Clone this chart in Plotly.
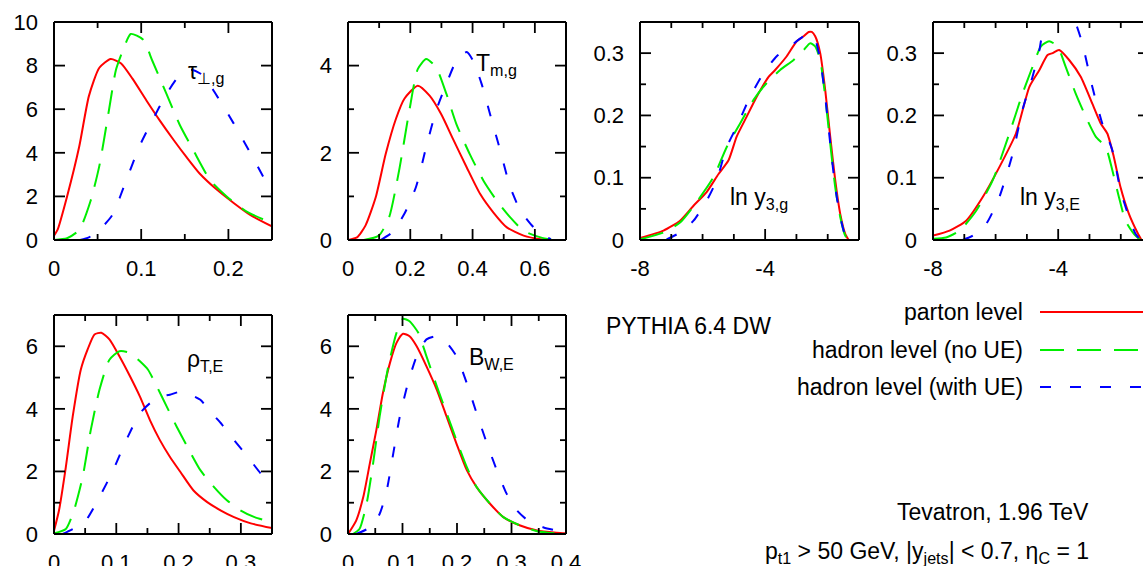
import numpy as np
import plotly.graph_objects as go

W, H = 1143, 566
RED, GREEN, BLUE = "#ff0000", "#00ee00", "#0000ff"
FONT = "Liberation Sans, Arial, Helvetica, sans-serif"

# ---------------- data ----------------
# Panel 1: tau_perp,g
p1_red_x = [0.0, 0.004, 0.015, 0.029, 0.040, 0.052, 0.065, 0.077, 0.090, 0.106, 0.121, 0.137, 0.152, 0.167, 0.187, 0.206, 0.225, 0.25]
p1_red_y = [0.2, 0.46, 2.0, 4.3, 6.6, 7.9, 8.3, 8.1, 7.4, 6.4, 5.5, 4.6, 3.8, 3.05, 2.3, 1.7, 1.15, 0.62]
p1_grn_x = [0.0, 0.015, 0.029, 0.042, 0.052, 0.063, 0.071, 0.079, 0.088, 0.102, 0.113, 0.129, 0.144, 0.160, 0.179, 0.198, 0.221, 0.25]
p1_grn_y = [0.0, 0.08, 0.46, 1.8, 3.4, 5.95, 7.8, 8.7, 9.45, 9.2, 8.2, 6.7, 5.3, 4.1, 2.75, 2.0, 1.3, 0.78]
p1_blu_x = [0.030, 0.040, 0.052, 0.067, 0.083, 0.098, 0.113, 0.129, 0.144, 0.158, 0.171, 0.187, 0.206, 0.225, 0.240, 0.25]
p1_blu_y = [0.0, 0.12, 0.46, 1.15, 2.75, 4.3, 5.5, 6.7, 7.55, 7.8, 7.55, 6.6, 5.35, 4.0, 2.9, 2.1]

# Panel 2: T_m,g
p2_red_x = [0.0, 0.029, 0.056, 0.089, 0.121, 0.154, 0.181, 0.224, 0.262, 0.299, 0.337, 0.381, 0.424, 0.467, 0.510, 0.564, 0.618, 0.672]
p2_red_y = [0.0, 0.06, 0.33, 0.98, 1.97, 2.78, 3.24, 3.54, 3.31, 2.89, 2.32, 1.67, 1.06, 0.63, 0.29, 0.10, 0.02, 0.0]
p2_grn_x = [0.051, 0.099, 0.132, 0.164, 0.197, 0.224, 0.251, 0.283, 0.316, 0.348, 0.391, 0.435, 0.478, 0.521, 0.564, 0.618, 0.662]
p2_grn_y = [0.0, 0.1, 0.52, 1.59, 2.97, 3.92, 4.15, 3.96, 3.35, 2.66, 1.97, 1.36, 0.90, 0.52, 0.21, 0.06, 0.0]
p2_blu_x = [0.105, 0.143, 0.181, 0.218, 0.251, 0.283, 0.316, 0.348, 0.381, 0.402, 0.429, 0.456, 0.489, 0.521, 0.554, 0.586, 0.618, 0.651]
p2_blu_y = [0.0, 0.18, 0.6, 1.21, 2.13, 2.97, 3.58, 4.11, 4.31, 4.11, 3.58, 2.89, 2.05, 1.21, 0.67, 0.37, 0.14, 0.02]

# Panel 3: ln y3,g
p3_red_x = [-8.0, -7.25, -6.72, -6.29, -5.87, -5.49, -5.17, -4.91, -4.59, -4.27, -3.89, -3.68, -3.31, -2.99, -2.77, -2.61, -2.51, -2.40, -2.24, -2.08, -1.92, -1.76, -1.60, -1.44, -1.33]
p3_red_y = [0.003, 0.015, 0.031, 0.055, 0.077, 0.106, 0.128, 0.166, 0.198, 0.230, 0.262, 0.273, 0.295, 0.319, 0.327, 0.334, 0.334, 0.327, 0.300, 0.241, 0.166, 0.096, 0.042, 0.010, 0.0]
p3_grn_x = [-8.0, -7.25, -6.72, -6.19, -5.65, -5.23, -4.80, -4.37, -3.95, -3.52, -3.09, -2.77, -2.56, -2.40, -2.24, -2.08, -1.92, -1.76, -1.60, -1.44, -1.33]
p3_grn_y = [0.001, 0.012, 0.028, 0.061, 0.101, 0.149, 0.187, 0.225, 0.252, 0.273, 0.289, 0.305, 0.316, 0.311, 0.289, 0.230, 0.155, 0.085, 0.037, 0.007, 0.0]
p3_blu_x = [-7.15, -6.72, -6.29, -5.87, -5.55, -5.23, -4.91, -4.48, -4.05, -3.63, -3.20, -2.77, -2.56, -2.40, -2.24, -2.08, -1.92, -1.76, -1.60, -1.44, -1.33]
p3_blu_y = [0.001, 0.012, 0.031, 0.063, 0.096, 0.149, 0.182, 0.230, 0.268, 0.295, 0.311, 0.327, 0.330, 0.322, 0.289, 0.230, 0.155, 0.085, 0.037, 0.007, 0.0]

# Panel 4: ln y3,E
p4_red_x = [-8.0, -7.47, -6.94, -6.41, -5.88, -5.35, -4.92, -4.60, -4.34, -4.18, -3.97, -3.65, -3.28, -2.91, -2.64, -2.43, -2.22, -2.01, -1.74, -1.47, -1.34]
p4_red_y = [0.007, 0.015, 0.031, 0.069, 0.117, 0.171, 0.246, 0.273, 0.297, 0.300, 0.305, 0.289, 0.262, 0.219, 0.187, 0.171, 0.133, 0.085, 0.042, 0.012, 0.0]
p4_grn_x = [-8.0, -7.58, -7.15, -6.62, -6.09, -5.56, -5.14, -4.82, -4.55, -4.29, -4.02, -3.76, -3.44, -3.12, -2.80, -2.48, -2.27, -2.06, -1.85, -1.58, -1.37]
p4_grn_y = [0.002, 0.004, 0.015, 0.047, 0.096, 0.171, 0.235, 0.278, 0.311, 0.319, 0.311, 0.278, 0.235, 0.198, 0.166, 0.149, 0.112, 0.069, 0.031, 0.010, 0.0]
p4_blu_x = [-7.05, -6.73, -6.30, -5.88, -5.45, -5.14, -4.82, -4.60, -4.47, -4.25, -4.0, -3.72, -3.44, -3.23, -2.91, -2.59, -2.27, -2.01, -1.74, -1.53, -1.37]
p4_blu_y = [0.0, 0.007, 0.026, 0.069, 0.139, 0.209, 0.262, 0.305, 0.343, 0.375, 0.385, 0.375, 0.348, 0.316, 0.246, 0.187, 0.144, 0.080, 0.037, 0.010, 0.0]

# Panel 5: rho_T,E
p5_red_x = [0.0, 0.008, 0.019, 0.030, 0.043, 0.054, 0.065, 0.076, 0.089, 0.105, 0.122, 0.138, 0.154, 0.170, 0.186, 0.203, 0.224, 0.246, 0.268, 0.289, 0.316, 0.35]
p5_red_y = [0.1, 0.75, 2.14, 3.75, 5.25, 5.9, 6.38, 6.43, 6.22, 5.68, 5.04, 4.39, 3.64, 3.0, 2.47, 1.98, 1.39, 1.02, 0.75, 0.54, 0.34, 0.19]
p5_grn_x = [0.0, 0.019, 0.032, 0.046, 0.059, 0.073, 0.089, 0.105, 0.122, 0.138, 0.151, 0.165, 0.181, 0.197, 0.214, 0.235, 0.257, 0.278, 0.300, 0.322, 0.349]
p5_grn_y = [0.02, 0.16, 0.75, 1.82, 3.32, 4.61, 5.57, 5.84, 5.79, 5.52, 5.25, 4.72, 4.07, 3.43, 2.79, 2.04, 1.5, 1.07, 0.75, 0.54, 0.38]
p5_blu_x = [0.014, 0.035, 0.051, 0.073, 0.095, 0.116, 0.138, 0.154, 0.170, 0.186, 0.203, 0.219, 0.235, 0.251, 0.268, 0.289, 0.311, 0.332, 0.343, 0.35]
p5_blu_y = [0.0, 0.21, 0.43, 1.18, 2.04, 3.0, 3.86, 4.18, 4.39, 4.45, 4.55, 4.45, 4.29, 3.91, 3.54, 3.0, 2.47, 1.93, 1.71, 1.55]

# Panel 6: B_W,E
p6_red_x = [0.0, 0.015, 0.028, 0.040, 0.052, 0.064, 0.077, 0.089, 0.101, 0.113, 0.126, 0.144, 0.163, 0.181, 0.199, 0.218, 0.236, 0.261, 0.285, 0.316, 0.347, 0.383, 0.4]
p6_red_y = [0.0, 0.43, 1.18, 2.25, 3.32, 4.5, 5.47, 6.11, 6.4, 6.32, 6.0, 5.36, 4.61, 3.75, 2.89, 2.04, 1.5, 0.96, 0.54, 0.27, 0.11, 0.04, 0.02]
p6_grn_x = [0.009, 0.021, 0.034, 0.046, 0.058, 0.074, 0.089, 0.101, 0.113, 0.129, 0.144, 0.163, 0.181, 0.199, 0.218, 0.236, 0.261, 0.285, 0.316, 0.347, 0.383]
p6_grn_y = [0.0, 0.16, 0.96, 2.25, 3.75, 5.36, 6.43, 6.88, 6.8, 6.43, 5.68, 4.72, 3.86, 3.0, 2.14, 1.5, 0.96, 0.54, 0.27, 0.09, 0.02]
p6_blu_x = [0.015, 0.040, 0.058, 0.071, 0.083, 0.095, 0.110, 0.126, 0.144, 0.163, 0.181, 0.199, 0.218, 0.236, 0.255, 0.273, 0.291, 0.310, 0.334, 0.359, 0.383, 0.4]
p6_blu_y = [0.0, 0.21, 0.64, 1.39, 2.57, 3.75, 4.82, 5.68, 6.22, 6.32, 6.11, 5.68, 4.82, 3.86, 2.89, 2.04, 1.29, 0.75, 0.38, 0.21, 0.11, 0.05]

series_names = ["parton level", "hadron level (no UE)", "hadron level (with UE)"]
panel_labels = ["τ<sub>⊥,g</sub>", "T<sub>m,g</sub>", "ln y<sub>3,g</sub>", "ln y<sub>3,E</sub>",
                "ρ<sub>T,E</sub>", "B<sub>W,E</sub>"]
panel_label_pos = [(0.151, 7.7), (0.405, 4.02), (-5.2, 0.066), (-5.27, 0.066), (0.21, 5.55), (0.219, 5.6)]
log_ticks = [-8, -4]
log_tick_text = ["-8", "-4"]

panels = [
    dict(data=[(p1_red_x, p1_red_y), (p1_grn_x, p1_grn_y), (p1_blu_x, p1_blu_y)],
         xr=[0, 0.25], yr=[0, 10], xd=[54, 272], yd=[22, 240], xdt=0.1, xmin=0.05, ydt=2, ymin=None, x0=0),
    dict(data=[(p2_red_x, p2_red_y), (p2_grn_x, p2_grn_y), (p2_blu_x, p2_blu_y)],
         xr=[0, 0.7], yr=[0, 5], xd=[348, 566], yd=[22, 240], xdt=0.2, xmin=0.1, ydt=2, ymin=1, x0=0),
    dict(data=[(p3_red_x, p3_red_y), (p3_grn_x, p3_grn_y), (p3_blu_x, p3_blu_y)],
         xr=[-8, -1], yr=[0, 0.35], xd=[640, 859], yd=[22, 240], xdt=4, xmin=1, ydt=0.1, ymin=0.05, x0=-8),
    dict(data=[(p4_red_x, p4_red_y), (p4_grn_x, p4_grn_y), (p4_blu_x, p4_blu_y)],
         xr=[-8, -1.29], yr=[0, 0.35], xd=[933, 1143], yd=[22, 240], xdt=4, xmin=1, ydt=0.1, ymin=0.05, x0=-8),
    dict(data=[(p5_red_x, p5_red_y), (p5_grn_x, p5_grn_y), (p5_blu_x, p5_blu_y)],
         xr=[0, 0.35], yr=[0, 7], xd=[54, 272], yd=[315, 534], xdt=0.1, xmin=0.05, ydt=2, ymin=1, x0=0),
    dict(data=[(p6_red_x, p6_red_y), (p6_grn_x, p6_grn_y), (p6_blu_x, p6_blu_y)],
         xr=[0, 0.4], yr=[0, 7], xd=[348, 566], yd=[315, 534], xdt=0.1, xmin=0.05, ydt=2, ymin=1, x0=0),
]

colors = [RED, GREEN, BLUE]
dashes = ["solid", "24px,13px", "11px,19px"]
MAJ, MIN, TW, FW = 11, 6, 1.8, 2


def tick_values(lo, hi, step, start):
    k0 = int(np.ceil((lo - start) / step - 1e-9))
    k1 = int(np.floor((hi - start) / step + 1e-9))
    return [round(start + k * step, 10) for k in range(k0, k1 + 1)]


fig = go.Figure()
layout = dict(
    template="none",
    width=W, height=H, margin=dict(l=0, r=0, t=0, b=0, autoexpand=False),
    paper_bgcolor="white", plot_bgcolor="white", showlegend=False,
    font=dict(family=FONT, size=22, color="black"),
)
annotations = []
shapes = []


def seg(x0, y0, x1, y1, width, color="black", dash="solid"):
    # frame / tick segment given in figure pixels, placed in paper coordinates
    shapes.append(dict(type="line", xref="paper", yref="paper", x0=x0 / W, x1=x1 / W,
                       y0=1 - y0 / H, y1=1 - y1 / H, line=dict(color=color, width=width, dash=dash)))


for i, p in enumerate(panels):
    n = i + 1
    xa = "x" if n == 1 else f"x{n}"
    ya = "y" if n == 1 else f"y{n}"
    for (xs, ys), c, d in zip(p["data"], colors, dashes):
        fig.add_trace(go.Scatter(x=xs, y=ys, mode="lines", xaxis=xa, yaxis=ya, hoverinfo="skip",
                                 line=dict(color=c, width=2, dash=d, shape="spline", smoothing=0.6)))
    xkey = "xaxis" if n == 1 else f"xaxis{n}"
    ykey = "yaxis" if n == 1 else f"yaxis{n}"
    xd0, xd1 = p["xd"]
    yd0, yd1 = p["yd"]
    last = (n == 4)
    xax = dict(
        domain=[xd0 / W, xd1 / W], range=p["xr"], anchor=ya, showgrid=False, zeroline=False, automargin=False,
        showline=False, ticks="", tick0=p["x0"], dtick=p["xdt"], ticklabelstandoff=13,
        tickfont=dict(size=22, family=FONT, color="black"),
    )
    if n in (3, 4):
        xax.update(tickmode="array", tickvals=log_ticks, ticktext=log_tick_text)
    layout[xkey] = xax
    layout[ykey] = dict(
        domain=[1 - yd1 / H, 1 - yd0 / H], range=p["yr"], anchor=xa, showgrid=False, zeroline=False,
        automargin=False, showline=False, ticks="", tick0=0, dtick=p["ydt"], ticklabelstandoff=15,
        tickfont=dict(size=22, family=FONT, color="black"),
    )

    def px_x(v, p=p):
        return p["xd"][0] + (v - p["xr"][0]) / (p["xr"][1] - p["xr"][0]) * (p["xd"][1] - p["xd"][0])

    def px_y(v, p=p):
        return p["yd"][1] - (v - p["yr"][0]) / (p["yr"][1] - p["yr"][0]) * (p["yd"][1] - p["yd"][0])

    # frame
    seg(xd0, yd1, xd1, yd1, FW)
    seg(xd0, yd0, xd1, yd0, FW)
    seg(xd0, yd0, xd0, yd1, FW)
    if not last:
        seg(xd1, yd0, xd1, yd1, FW)

    # x ticks, bottom and top
    xmaj = tick_values(p["xr"][0], p["xr"][1], p["xdt"], p["x0"])
    xmin = [v for v in tick_values(p["xr"][0], p["xr"][1], p["xmin"], p["x0"])
            if all(abs(v - m) > 1e-9 for m in xmaj)]
    for vals, ln in ((xmaj, MAJ), (xmin, MIN)):
        for v in vals:
            x = px_x(v)
            seg(x, yd1, x, yd1 - ln, TW)
            seg(x, yd0, x, yd0 + ln, TW)
    # y ticks, left and right
    ymaj = tick_values(p["yr"][0], p["yr"][1], p["ydt"], 0)
    ymin = [] if p["ymin"] is None else [v for v in tick_values(p["yr"][0], p["yr"][1], p["ymin"], 0)
                                          if all(abs(v - m) > 1e-9 for m in ymaj)]
    for vals, ln in ((ymaj, MAJ), (ymin, MIN)):
        for v in vals:
            y = px_y(v)
            seg(xd0, y, xd0 + ln, y, TW)
            if not last:
                seg(xd1, y, xd1 - ln, y, TW)
            elif ln == MAJ and v > 0:
                # right ticks of the cut-off panel: only their inner ends are visible
                seg(xd1 - 5, y, xd1, y, TW)

    lx, ly = panel_label_pos[i]
    annotations.append(dict(x=lx, y=ly, xref=xa, yref=ya, text=panel_labels[i], showarrow=False,
                            xanchor="left", yanchor="middle", font=dict(size=23, family=FONT, color="black")))


def ptxt(text, x, y, xanchor, size=23):
    annotations.append(dict(x=x / W, y=1 - y / H, xref="paper", yref="paper", text=text, showarrow=False,
                            xanchor=xanchor, yanchor="middle", font=dict(size=size, family=FONT, color="black")))


ptxt("PYTHIA 6.4 DW", 604, 326, "left")
legend_y = [312, 350, 387]
for nm, c, d, yy in zip(series_names, colors, dashes, legend_y):
    ptxt(nm, 1025, yy, "right")
    seg(1040, yy, W, yy, 2, color=c, dash=d)
ptxt("Tevatron, 1.96 TeV", 1091, 512, "right")
ptxt("p<sub>t1</sub> > 50 GeV, |y<sub>jets</sub>| < 0.7, η<sub>C</sub> = 1", 1091, 552, "right")

layout["annotations"] = annotations
layout["shapes"] = shapes
fig.update_layout(**layout)
fig.write_html("out.html", config={"displayModeBar": False},
               post_script="document.body.style.margin='0';document.body.style.overflow='hidden';")
